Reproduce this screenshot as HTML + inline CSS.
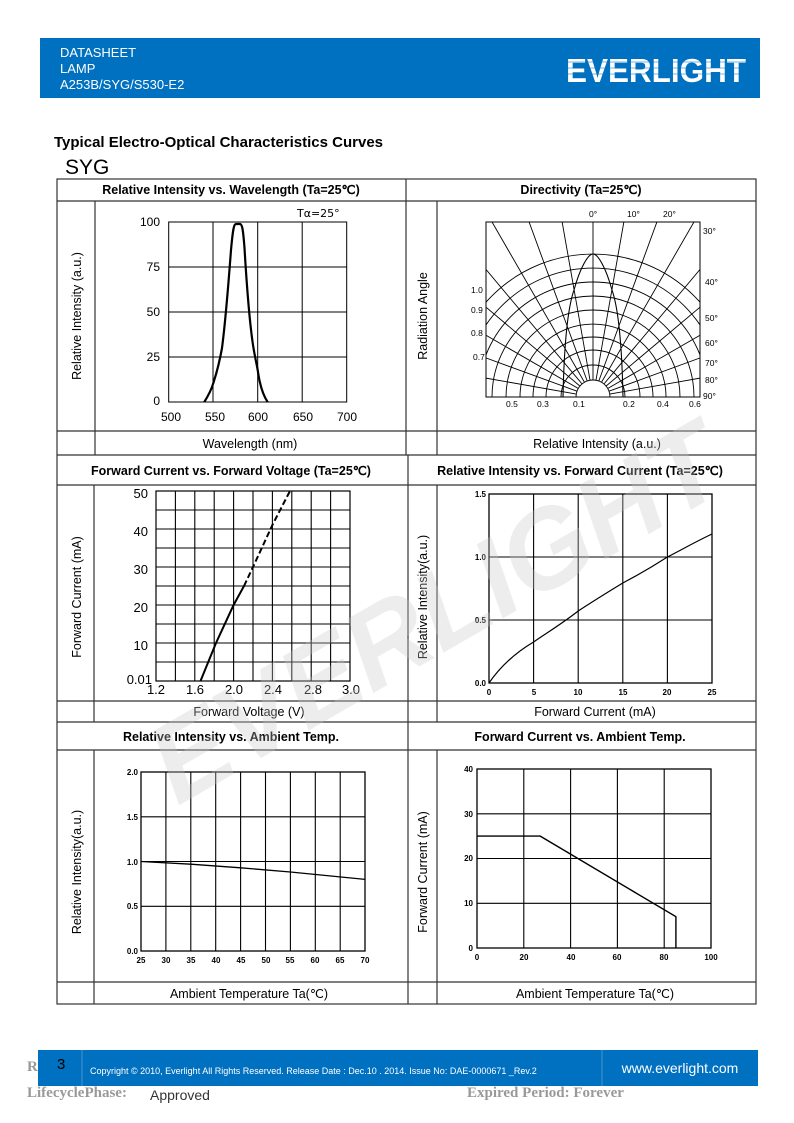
<!DOCTYPE html>
<html><head><meta charset="utf-8"><style>
html,body{margin:0;padding:0;background:#fff;}
svg{display:block;}
text{font-family:"Liberation Sans",sans-serif;}
.dv{font-family:"DejaVu Sans",sans-serif;}
.sf{font-family:"Liberation Serif",serif;}
</style></head><body>
<svg width="794" height="1123" viewBox="0 0 794 1123" xmlns="http://www.w3.org/2000/svg">
<!-- header -->
<rect x="40" y="38" width="720" height="60" fill="#0070c0"/>
<text x="60" y="57" font-size="13" fill="#fff">DATASHEET</text>
<text x="60" y="73" font-size="13" fill="#fff">LAMP</text>
<text x="60" y="89" font-size="13" fill="#fff">A253B/SYG/S530-E2</text>
<text x="566" y="82" font-size="33" font-weight="bold" fill="#fff" textLength="180" lengthAdjust="spacingAndGlyphs">EVERLIGHT</text>
<g stroke="#0070c0" stroke-width="1" opacity="0.5"><line x1="560" y1="62" x2="750" y2="62"/><line x1="560" y1="68" x2="750" y2="68"/><line x1="560" y1="74" x2="750" y2="74"/></g>

<text x="54" y="147" font-size="15" font-weight="bold">Typical Electro-Optical Characteristics Curves</text>
<text x="65" y="174" font-size="21">SYG</text>

<!-- table -->
<g stroke="#333" stroke-width="1.2" fill="none">
<rect x="57" y="179" width="699" height="825"/>
<line x1="57" y1="201" x2="756" y2="201"/>
<line x1="57" y1="431" x2="756" y2="431"/>
<line x1="57" y1="455" x2="756" y2="455"/>
<line x1="57" y1="485" x2="756" y2="485"/>
<line x1="57" y1="701" x2="756" y2="701"/>
<line x1="57" y1="722" x2="756" y2="722"/>
<line x1="57" y1="750" x2="756" y2="750"/>
<line x1="57" y1="982" x2="756" y2="982"/>
<line x1="406" y1="179" x2="406" y2="455"/>
<line x1="408" y1="455" x2="408" y2="1004"/>
<line x1="95" y1="201" x2="95" y2="455"/>
<line x1="437" y1="201" x2="437" y2="455"/>
<line x1="94" y1="485" x2="94" y2="722"/>
<line x1="437" y1="485" x2="437" y2="722"/>
<line x1="94" y1="750" x2="94" y2="1004"/>
<line x1="437" y1="750" x2="437" y2="1004"/>
</g>
<g font-size="12.5" font-weight="bold" text-anchor="middle">
<text x="231" y="194">Relative Intensity vs. Wavelength (Ta=25℃)</text>
<text x="581" y="194">Directivity (Ta=25℃)</text>
<text x="231" y="475">Forward Current vs. Forward Voltage (Ta=25℃)</text>
<text x="580" y="475">Relative Intensity vs. Forward Current (Ta=25℃)</text>
<text x="231" y="741">Relative Intensity vs. Ambient Temp.</text>
<text x="580" y="741">Forward Current vs. Ambient Temp.</text>
</g>
<g font-size="12.5" text-anchor="middle">
<text x="250" y="448">Wavelength (nm)</text>
<text x="597" y="448">Relative Intensity (a.u.)</text>
<text x="249" y="716">Forward Voltage (V)</text>
<text x="595" y="716">Forward Current (mA)</text>
<text x="249" y="998">Ambient Temperature Ta(℃)</text>
<text x="595" y="998">Ambient Temperature Ta(℃)</text>
<text transform="translate(81,316) rotate(-90)">Relative Intensity (a.u.)</text>
<text transform="translate(427,316) rotate(-90)">Radiation Angle</text>
<text transform="translate(81,597) rotate(-90)">Forward Current (mA)</text>
<text transform="translate(427,597) rotate(-90)">Relative Intensity(a.u.)</text>
<text transform="translate(81,872) rotate(-90)">Relative Intensity(a.u.)</text>
<text transform="translate(427,872) rotate(-90)">Forward Current (mA)</text>
</g>

<!-- wavelength chart -->
<g stroke="#000" stroke-width="1" fill="none">
<rect x="168.7" y="222" width="178" height="180"/>
<line x1="213" y1="222" x2="213" y2="402"/><line x1="257.7" y1="222" x2="257.7" y2="402"/><line x1="302.2" y1="222" x2="302.2" y2="402"/>
<line x1="168.7" y1="267" x2="346.7" y2="267"/><line x1="168.7" y1="312" x2="346.7" y2="312"/><line x1="168.7" y1="357" x2="346.7" y2="357"/>
<path stroke-width="2.2" d="M204.3,402 C208,396 211,391 213,384 C216,375 219,365 222,348 C225,325 228,290 231,250 C233,228 234,224 236,224 L240,224 C242,224 243,228 244.5,248 C247,290 250,325 253,345 C255,358 257,365 258,372 C260,386 263,395 267.6,402"/>
</g>
<g font-size="12" class="dv" text-anchor="end">
<text x="160" y="226">100</text><text x="160" y="271">75</text><text x="160" y="316">50</text><text x="160" y="361">25</text><text x="160" y="405">0</text>
</g>
<g font-size="12" class="dv" text-anchor="middle">
<text x="171" y="421">500</text><text x="215" y="421">550</text><text x="258" y="421">600</text><text x="303" y="421">650</text><text x="347" y="421">700</text>
</g>
<text x="297" y="217" font-size="11" class="dv">Tα=25°</text>

<!-- directivity -->
<defs><clipPath id="dc"><rect x="486" y="222" width="214" height="175"/></clipPath></defs>
<g clip-path="url(#dc)" stroke="#000" stroke-width="0.9" fill="none">
<path d="M450,397 A143,143 0 0 1 736,397"/>
<path d="M464,397 A129,129 0 0 1 722,397"/>
<path d="M478,397 A115,115 0 0 1 708,397"/>
<path d="M492,397 A101,101 0 0 1 694,397"/>
<path d="M506,397 A87,87 0 0 1 680,397"/>
<path d="M520,397 A73,73 0 0 1 666,397"/>
<path d="M533,397 A60,60 0 0 1 653,397"/>
<path d="M546,397 A47,47 0 0 1 640,397"/>
<path d="M561,397 A32,32 0 0 1 625,397"/>
<path d="M576,397 A17,17 0 0 1 610,397"/>
<g transform="translate(593,397)">
<line x1="0" y1="-17" x2="0" y2="-300"/>
<line x1="2.95" y1="-16.7" x2="52" y2="-295"/><line x1="-2.95" y1="-16.7" x2="-52" y2="-295"/>
<line x1="5.8" y1="-16" x2="103" y2="-282"/><line x1="-5.8" y1="-16" x2="-103" y2="-282"/>
<line x1="8.5" y1="-14.7" x2="150" y2="-260"/><line x1="-8.5" y1="-14.7" x2="-150" y2="-260"/>
<line x1="10.9" y1="-13" x2="193" y2="-230"/><line x1="-10.9" y1="-13" x2="-193" y2="-230"/>
<line x1="13" y1="-10.9" x2="230" y2="-193"/><line x1="-13" y1="-10.9" x2="-230" y2="-193"/>
<line x1="14.7" y1="-8.5" x2="260" y2="-150"/><line x1="-14.7" y1="-8.5" x2="-260" y2="-150"/>
<line x1="16" y1="-5.8" x2="282" y2="-103"/><line x1="-16" y1="-5.8" x2="-282" y2="-103"/>
<line x1="16.7" y1="-2.95" x2="295" y2="-52"/><line x1="-16.7" y1="-2.95" x2="-295" y2="-52"/>
</g>
<path stroke-width="1.1" d="M563,397 C564,350 567,310 574,290 C580,268 588,254 593,254 C598,254 606,268 612,290 C619,310 622,350 623,397"/>
</g>
<rect x="486" y="222" width="214" height="175" stroke="#000" fill="none"/>
<g font-size="8.5" class="dv">
<text x="589" y="217">0°</text><text x="627" y="217">10°</text><text x="663" y="217">20°</text>
<text x="703" y="234">30°</text><text x="705" y="285">40°</text><text x="705" y="321">50°</text><text x="705" y="346">60°</text><text x="705" y="366">70°</text><text x="705" y="383">80°</text><text x="703" y="399">90°</text>
<text x="471" y="293">1.0</text><text x="471" y="313">0.9</text><text x="471" y="336">0.8</text><text x="473" y="360">0.7</text>
<text x="506" y="407">0.5</text><text x="537" y="407">0.3</text><text x="573" y="407">0.1</text><text x="623" y="407">0.2</text><text x="657" y="407">0.4</text><text x="689" y="407">0.6</text>
</g>

<!-- FV chart: box 156..350 x 491..681 -->
<g stroke="#000" fill="none">
<rect x="156" y="491" width="194" height="190" stroke-width="1.2"/>
<g stroke-width="1.1">
<line x1="175.4" y1="491" x2="175.4" y2="681"/><line x1="194.8" y1="491" x2="194.8" y2="681"/><line x1="214.2" y1="491" x2="214.2" y2="681"/><line x1="233.6" y1="491" x2="233.6" y2="681"/><line x1="253" y1="491" x2="253" y2="681"/><line x1="272.4" y1="491" x2="272.4" y2="681"/><line x1="291.8" y1="491" x2="291.8" y2="681"/><line x1="311.2" y1="491" x2="311.2" y2="681"/><line x1="330.6" y1="491" x2="330.6" y2="681"/>
<line x1="156" y1="510" x2="350" y2="510"/><line x1="156" y1="529" x2="350" y2="529"/><line x1="156" y1="548" x2="350" y2="548"/><line x1="156" y1="567" x2="350" y2="567"/><line x1="156" y1="586" x2="350" y2="586"/><line x1="156" y1="605" x2="350" y2="605"/><line x1="156" y1="624" x2="350" y2="624"/><line x1="156" y1="643" x2="350" y2="643"/><line x1="156" y1="662" x2="350" y2="662"/>
</g>
<path stroke-width="2" d="M200.5,681 L216,643 L233.6,605 L244,586"/>
<path stroke-width="2" stroke-dasharray="6,3" d="M244,586 L253,567 L272.4,525 L290,491"/>
</g>
<g font-size="13" class="dv" text-anchor="end">
<text x="148" y="498">50</text><text x="148" y="536">40</text><text x="148" y="574">30</text><text x="148" y="612">20</text><text x="148" y="650">10</text><text x="152" y="684">0.01</text>
</g>
<g font-size="13" class="dv" text-anchor="middle">
<text x="156" y="694">1.2</text><text x="195" y="694">1.6</text><text x="234" y="694">2.0</text><text x="273" y="694">2.4</text><text x="313" y="694">2.8</text><text x="351" y="694">3.0</text>
</g>

<!-- IF chart -->
<g stroke="#000" fill="none" stroke-width="1.1">
<rect x="489" y="494" width="223" height="189" stroke-width="1.3"/>
<line x1="533.6" y1="494" x2="533.6" y2="683"/><line x1="578.2" y1="494" x2="578.2" y2="683"/><line x1="622.8" y1="494" x2="622.8" y2="683"/><line x1="667.4" y1="494" x2="667.4" y2="683"/>
<line x1="489" y1="557" x2="712" y2="557"/><line x1="489" y1="620" x2="712" y2="620"/>
<path stroke-width="1.2" d="M489,683 C500,667 515,653 533.6,642 C548,632 563,623 578.2,611 C595,600 608,592 622.8,583 C640,574 655,565 667.4,557 C683,549 697,541 712,534"/>
</g>
<g font-size="8" font-weight="bold" text-anchor="end">
<text x="486" y="497">1.5</text><text x="486" y="560">1.0</text><text x="486" y="623">0.5</text><text x="486" y="686">0.0</text>
</g>
<g font-size="8" font-weight="bold" text-anchor="middle">
<text x="489" y="695">0</text><text x="534" y="695">5</text><text x="578" y="695">10</text><text x="623" y="695">15</text><text x="667" y="695">20</text><text x="712" y="695">25</text>
</g>

<!-- RI vs temp -->
<g stroke="#000" fill="none" stroke-width="1.1">
<rect x="141" y="772" width="224" height="179" stroke-width="1.3"/>
<line x1="165.9" y1="772" x2="165.9" y2="951"/><line x1="190.8" y1="772" x2="190.8" y2="951"/><line x1="215.7" y1="772" x2="215.7" y2="951"/><line x1="240.6" y1="772" x2="240.6" y2="951"/><line x1="265.5" y1="772" x2="265.5" y2="951"/><line x1="290.4" y1="772" x2="290.4" y2="951"/><line x1="315.3" y1="772" x2="315.3" y2="951"/><line x1="340.2" y1="772" x2="340.2" y2="951"/>
<line x1="141" y1="816.8" x2="365" y2="816.8"/><line x1="141" y1="861.5" x2="365" y2="861.5"/><line x1="141" y1="906.3" x2="365" y2="906.3"/>
<path stroke-width="1.3" d="M141,861.5 L190.8,864.2 L240.6,867.8 L290.4,872 L365,879.4"/>
</g>
<g font-size="8" font-weight="bold" text-anchor="end">
<text x="138" y="775">2.0</text><text x="138" y="820">1.5</text><text x="138" y="865">1.0</text><text x="138" y="909">0.5</text><text x="138" y="954">0.0</text>
</g>
<g font-size="8" font-weight="bold" text-anchor="middle">
<text x="141" y="963">25</text><text x="166" y="963">30</text><text x="191" y="963">35</text><text x="216" y="963">40</text><text x="241" y="963">45</text><text x="266" y="963">50</text><text x="290" y="963">55</text><text x="315" y="963">60</text><text x="340" y="963">65</text><text x="365" y="963">70</text>
</g>

<!-- IF vs temp -->
<g stroke="#000" fill="none" stroke-width="1.1">
<rect x="477" y="769" width="234" height="179" stroke-width="1.3"/>
<line x1="523.8" y1="769" x2="523.8" y2="948"/><line x1="570.6" y1="769" x2="570.6" y2="948"/><line x1="617.4" y1="769" x2="617.4" y2="948"/><line x1="664.2" y1="769" x2="664.2" y2="948"/>
<line x1="477" y1="813.8" x2="711" y2="813.8"/><line x1="477" y1="858.5" x2="711" y2="858.5"/><line x1="477" y1="903.3" x2="711" y2="903.3"/>
<path stroke-width="1.4" d="M477,836.1 L540.2,836.1 L675.9,916.7 L675.9,948"/>
</g>
<g font-size="8" font-weight="bold" text-anchor="end">
<text x="473" y="772">40</text><text x="473" y="817">30</text><text x="473" y="861">20</text><text x="473" y="906">10</text><text x="473" y="951">0</text>
</g>
<g font-size="8" font-weight="bold" text-anchor="middle">
<text x="477" y="960">0</text><text x="524" y="960">20</text><text x="571" y="960">40</text><text x="617" y="960">60</text><text x="664" y="960">80</text><text x="711" y="960">100</text>
</g>

<!-- watermark -->
<text x="440" y="650" transform="rotate(-30 440 620)" text-anchor="middle" font-size="112" font-weight="bold" font-style="italic" fill="#c8c8c8" opacity="0.32">EVERLIGHT</text>

<!-- footer -->
<text x="27" y="1071" class="sf" font-weight="bold" font-size="15" fill="#999">R</text>
<rect x="38" y="1050" width="720" height="36" fill="#0070c0"/>
<line x1="82" y1="1050" x2="82" y2="1086" stroke="#4b93d1"/>
<line x1="602" y1="1050" x2="602" y2="1086" stroke="#4b93d1"/>
<text x="57" y="1069" font-size="15" fill="#000">3</text>
<text x="90" y="1074" font-size="9" fill="#fff">Copyright © 2010, Everlight All Rights Reserved. Release Date : Dec.10 . 2014. Issue No:  DAE-0000671 _Rev.2</text>
<text x="680" y="1073" font-size="14" fill="#fff" text-anchor="middle">www.everlight.com</text>
<text x="27" y="1097" class="sf" font-weight="bold" font-size="15" fill="#999">LifecyclePhase:</text>
<text x="150" y="1100" font-size="14" fill="#333">Approved</text>
<text x="467" y="1097" class="sf" font-weight="bold" font-size="15" fill="#999">Expired Period: Forever</text>
</svg>
</body></html>
